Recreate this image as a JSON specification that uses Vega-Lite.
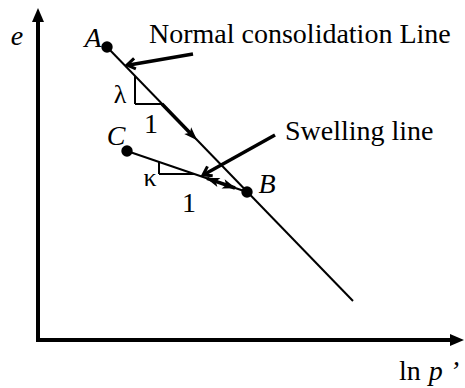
{
  "$schema": "https://vega.github.io/schema/vega-lite/v6.json",
  "width": 465,
  "height": 388,
  "padding": 0,
  "autosize": {"type": "none"},
  "config": {"view": {"stroke": null}},
  "datasets": {
    "segs": [
      {"kind": "axis", "x": 38, "y": 342, "x2": 38, "y2": 18},
      {"kind": "axis", "x": 36, "y": 340, "x2": 455, "y2": 340},
      {"kind": "thin", "x": 107, "y": 47, "x2": 353, "y2": 301},
      {"kind": "thin", "x": 127, "y": 151, "x2": 247, "y2": 192},
      {"kind": "thin", "x": 135, "y": 76, "x2": 135, "y2": 104},
      {"kind": "thin", "x": 135, "y": 104, "x2": 163, "y2": 104},
      {"kind": "thin", "x": 159, "y": 162, "x2": 159, "y2": 174},
      {"kind": "thin", "x": 159, "y": 174, "x2": 194, "y2": 174},
      {"kind": "thick", "x": 193, "y": 54, "x2": 129, "y2": 65},
      {"kind": "thick", "x": 275, "y": 135, "x2": 205, "y2": 174},
      {"kind": "thick", "x": 162, "y": 104, "x2": 192, "y2": 135},
      {"kind": "thick", "x": 207, "y": 178.3, "x2": 235, "y2": 188}
    ],
    "heads": [
      {"kind": "axis", "x": 38, "y": 18, "dir": 0},
      {"kind": "axis", "x": 454, "y": 340, "dir": 90},
      {"kind": "mid", "x": 191.6, "y": 134.6, "dir": 136},
      {"kind": "mid", "x": 213.6, "y": 180.6, "dir": 289},
      {"kind": "mid", "x": 228.4, "y": 185.7, "dir": 109},
      {"kind": "open", "x": 127, "y": 65, "dir": 260.5},
      {"kind": "open", "x": 203, "y": 175, "dir": 241}
    ],
    "dots": [
      {"name": "A", "x": 107, "y": 47},
      {"name": "C", "x": 127, "y": 151},
      {"name": "B", "x": 247, "y": 192}
    ],
    "labels": [
      {"role": "caption", "label": "Normal consolidation Line", "x": 149, "y": 43},
      {"role": "caption", "label": "Swelling line", "x": 285, "y": 140},
      {"role": "caption", "label": "ln", "x": 399, "y": 380},
      {"role": "symbol", "label": "p ’", "x": 444, "y": 380},
      {"role": "symbol", "label": "A", "x": 93, "y": 47},
      {"role": "symbol", "label": "C", "x": 116, "y": 145},
      {"role": "symbol", "label": "B", "x": 267, "y": 193},
      {"role": "symbol", "label": "e", "x": 17, "y": 45},
      {"role": "greek", "label": "λ", "x": 120, "y": 103},
      {"role": "greek", "label": "κ", "x": 150, "y": 186},
      {"role": "number", "label": "1", "x": 151, "y": 133},
      {"role": "number", "label": "1", "x": 189, "y": 212}
    ]
  },
  "encoding": {
    "x": {"field": "x", "type": "quantitative", "scale": {"domain": [0, 465]}, "axis": null},
    "y": {"field": "y", "type": "quantitative", "scale": {"domain": [388, 0]}, "axis": null}
  },
  "layer": [
    {
      "data": {"name": "segs"},
      "transform": [{"filter": "datum.kind === 'axis'"}],
      "mark": {"type": "rule", "color": "black", "strokeWidth": 4, "strokeCap": "butt"},
      "encoding": {"x2": {"field": "x2"}, "y2": {"field": "y2"}}
    },
    {
      "data": {"name": "segs"},
      "transform": [{"filter": "datum.kind === 'thin'"}],
      "mark": {"type": "rule", "color": "black", "strokeWidth": 2, "strokeCap": "butt"},
      "encoding": {"x2": {"field": "x2"}, "y2": {"field": "y2"}}
    },
    {
      "data": {"name": "segs"},
      "transform": [{"filter": "datum.kind === 'thick'"}],
      "mark": {"type": "rule", "color": "black", "strokeWidth": 3.5, "strokeCap": "butt"},
      "encoding": {"x2": {"field": "x2"}, "y2": {"field": "y2"}}
    },
    {
      "data": {"name": "heads"},
      "transform": [{"filter": "datum.kind === 'axis'"}],
      "mark": {"type": "point", "shape": "M0,-1L0.6,0.4L-0.6,0.4Z", "size": 400, "filled": true, "color": "black", "opacity": 1},
      "encoding": {"angle": {"field": "dir", "type": "quantitative", "scale": null}}
    },
    {
      "data": {"name": "heads"},
      "transform": [{"filter": "datum.kind === 'mid'"}],
      "mark": {"type": "point", "shape": "M0,-1L0.6,0.7L0,0.3L-0.6,0.7Z", "size": 256, "filled": true, "color": "black", "opacity": 1},
      "encoding": {"angle": {"field": "dir", "type": "quantitative", "scale": null}}
    },
    {
      "data": {"name": "heads"},
      "transform": [{"filter": "datum.kind === 'open'"}],
      "mark": {"type": "point", "shape": "M-0.6,0.9L0,0L0.6,0.9", "size": 324, "filled": false, "color": "black", "strokeWidth": 3, "opacity": 1, "strokeCap": "butt"},
      "encoding": {"angle": {"field": "dir", "type": "quantitative", "scale": null}}
    },
    {
      "data": {"name": "dots"},
      "mark": {"type": "circle", "size": 130, "color": "black", "opacity": 1}
    },
    {
      "data": {"name": "labels"},
      "transform": [{"filter": "datum.role === 'caption'"}],
      "mark": {"type": "text", "font": "Liberation Serif", "fontSize": 28, "align": "left", "baseline": "alphabetic", "color": "black"},
      "encoding": {"text": {"field": "label"}}
    },
    {
      "data": {"name": "labels"},
      "transform": [{"filter": "datum.role === 'symbol'"}],
      "mark": {"type": "text", "font": "Liberation Serif", "fontSize": 28, "fontStyle": "italic", "align": "center", "baseline": "alphabetic", "color": "black"},
      "encoding": {"text": {"field": "label"}}
    },
    {
      "data": {"name": "labels"},
      "transform": [{"filter": "datum.role === 'greek'"}],
      "mark": {"type": "text", "font": "Liberation Serif", "fontSize": 26, "align": "center", "baseline": "alphabetic", "color": "black"},
      "encoding": {"text": {"field": "label"}}
    },
    {
      "data": {"name": "labels"},
      "transform": [{"filter": "datum.role === 'number'"}],
      "mark": {"type": "text", "font": "Liberation Serif", "fontSize": 28, "align": "center", "baseline": "alphabetic", "color": "black"},
      "encoding": {"text": {"field": "label"}}
    }
  ]
}
